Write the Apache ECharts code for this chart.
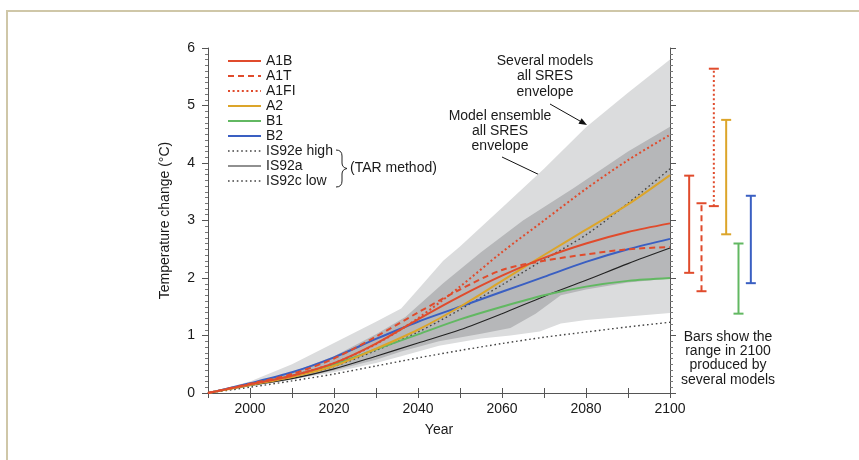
<!DOCTYPE html>
<html><head><meta charset="utf-8">
<script src="https://cdn.jsdelivr.net/npm/echarts@6/dist/echarts.min.js"></script>
<style>html,body{margin:0;padding:0;background:#fff}#c{width:859px;height:460px}</style>
</head><body><div id="c"></div>
<script>
// ---------- data ----------
const years = [1990,2000,2010,2020,2030,2040,2050,2060,2070,2080,2090,2100];
const A1B   = [0,0.15,0.30,0.52,0.86,1.28,1.68,2.04,2.35,2.60,2.80,2.95];
const A1T   = [0,0.16,0.33,0.60,0.98,1.40,1.80,2.14,2.30,2.41,2.50,2.54];
const A1FI  = [0,0.15,0.30,0.52,0.85,1.30,1.85,2.45,3.00,3.55,4.05,4.49];
const A2    = [0,0.14,0.28,0.47,0.77,1.10,1.50,1.95,2.40,2.84,3.28,3.79];
const B1    = [0,0.15,0.30,0.50,0.76,1.02,1.28,1.50,1.70,1.85,1.95,2.00];
const B2    = [0,0.17,0.36,0.62,0.94,1.24,1.50,1.76,2.02,2.28,2.50,2.68];
const IS92eHigh = [0,0.14,0.28,0.46,0.74,1.06,1.45,1.88,2.32,2.75,3.30,3.90];
const IS92a     = [0,0.13,0.25,0.42,0.64,0.87,1.10,1.38,1.68,1.96,2.25,2.52];
const IS92cLow  = [0,0.10,0.21,0.33,0.47,0.61,0.74,0.86,0.97,1.06,1.15,1.23];

const outerUpYears = [1990,2000,2010,2020,2030,2036,2040,2046,2050,2060,2070,2080,2090,2100];
const outerUp      = [0,0.20,0.50,0.87,1.24,1.47,1.80,2.30,2.55,3.22,3.90,4.62,5.22,5.80];
const outerLoYears = [1990,2000,2010,2020,2030,2036,2045,2055,2062,2069,2074,2080,2090,2100];
const outerLo      = [0,0.11,0.23,0.36,0.52,0.64,0.82,0.95,1.00,1.07,1.21,1.27,1.33,1.39];
const innerUpYears = [1990,2000,2010,2020,2030,2037,2046,2055,2065,2077,2090,2100];
const innerUp      = [0,0.17,0.36,0.64,1.02,1.32,1.91,2.45,3.00,3.56,4.20,4.63];
const innerLoYears = [1990,2000,2010,2020,2030,2036,2045,2055,2062,2068,2074,2080,2090,2100];
const innerLo      = [0,0.12,0.24,0.39,0.58,0.72,0.90,1.03,1.13,1.38,1.70,1.80,1.92,1.99];

const barNames = ['A1B','A1T','A1FI','A2','B1','B2'];
const barLow   = [2.09,1.77,3.25,2.76,1.38,1.91];
const barHigh  = [3.78,3.30,5.64,4.75,2.60,3.43];

const xLabels = [2000,2020,2040,2060,2080,2100];
const yLabels = [0,1,2,3,4,5,6];

// ---------- styles ----------
const RED='#e04b2c', GOLD='#dca52a', GREEN='#62b862', BLUE='#3a5fc2', DARK='#222222', DOT='#444444';
const FONT="'Liberation Sans', Arial, Helvetica, sans-serif";
const styles = {
  A1B:{color:RED,width:2,type:'solid'},
  A1T:{color:RED,width:2,type:[6,4]},
  A1FI:{color:RED,width:2,type:[2,2.6]},
  A2:{color:GOLD,width:2,type:'solid'},
  B1:{color:GREEN,width:2,type:'solid'},
  B2:{color:BLUE,width:2,type:'solid'},
  'IS92e high':{color:DOT,width:1.4,type:[1.6,2.8]},
  'IS92a':{color:DARK,width:1.1,type:'solid'},
  'IS92c low':{color:DOT,width:1.4,type:[1.6,2.8]}
};
const seriesData = {A1B,A1T,A1FI,A2,B1,B2,'IS92e high':IS92eHigh,'IS92a':IS92a,'IS92c low':IS92cLow};

function envelope(upY, up, loY, lo, color, z){
  return {type:'custom', xAxisIndex:0, yAxisIndex:0, silent:true, z:z,
    data:[[1990,0]],
    renderItem:(params, api)=>{
      const pts=[];
      upY.forEach((y,i)=>pts.push(api.coord([y, up[i]])));
      for(let i=loY.length-1;i>=0;i--) pts.push(api.coord([loY[i], lo[i]]));
      return {type:'polygon', shape:{points:pts}, style:{fill:color}};
    }};
}

const drawOrder = ['IS92c low','IS92a','IS92e high','B1','B2','A2','A1T','A1B','A1FI'];
const lineSeries = drawOrder.map(name=>({
  name, type:'line', xAxisIndex:0, yAxisIndex:0, symbol:'none', smooth:0.3,
  z:3, silent:true,
  lineStyle:{color:styles[name].color,width:styles[name].width,type:styles[name].type},
  data: years.map((y,i)=>[y, seriesData[name][i]])
}));

const barSeries = {
  type:'custom', xAxisIndex:2, yAxisIndex:2, silent:true, z:3,
  data: barNames.map((n,i)=>[i, barLow[i], barHigh[i]]),
  renderItem:(params, api)=>{
    const i = api.value(0);
    const lo = api.coord([i, api.value(1)]);
    const hi = api.coord([i, api.value(2)]);
    const st = styles[barNames[i]];
    const base = {stroke:st.color, lineWidth:2, lineDash: st.type==='solid'?null:st.type};
    const capSt = {stroke:st.color, lineWidth:2};
    const hw = 5;
    return {type:'group', children:[
      {type:'line', shape:{x1:lo[0],y1:lo[1],x2:hi[0],y2:hi[1]}, style:base},
      {type:'line', shape:{x1:lo[0]-hw,y1:lo[1],x2:lo[0]+hw,y2:lo[1]}, style:capSt},
      {type:'line', shape:{x1:hi[0]-hw,y1:hi[1],x2:hi[0]+hw,y2:hi[1]}, style:capSt}
    ]};
  }
};

// ---------- legend (graphic) ----------
const legendNames = ['A1B','A1T','A1FI','A2','B1','B2','IS92e high','IS92a','IS92c low'];
const graphics = [];
graphics.push({type:'rect', shape:{x:7,y:11,width:900,height:500}, style:{fill:null, stroke:'#cfc7a8', lineWidth:2}, silent:true});
legendNames.forEach((n,i)=>{
  const y = 61 + i*15;
  const st = styles[n];
  graphics.push({type:'line', shape:{x1:228,y1:y,x2:261,y2:y},
    style:{stroke:st.color, lineWidth:st.width, lineDash: st.type==='solid'?null:st.type}});
  graphics.push({type:'text', x:266, y:y, style:{text:n, font:'14px '+FONT, fill:'#1a1a1a', verticalAlign:'middle'}});
});
// brace
const braceSt = {fill:null, stroke:'#222', lineWidth:1};
graphics.push({type:'bezierCurve', shape:{x1:336,y1:150,cpx1:342,cpy1:150,x2:342,y2:156}, style:braceSt});
graphics.push({type:'line', shape:{x1:342,y1:156,x2:342,y2:163}, style:braceSt});
graphics.push({type:'bezierCurve', shape:{x1:342,y1:163,cpx1:342,cpy1:167.5,x2:347,y2:168.5}, style:braceSt});
graphics.push({type:'bezierCurve', shape:{x1:347,y1:168.5,cpx1:342,cpy1:169.5,x2:342,y2:174}, style:braceSt});
graphics.push({type:'line', shape:{x1:342,y1:174,x2:342,y2:181}, style:braceSt});
graphics.push({type:'bezierCurve', shape:{x1:342,y1:181,cpx1:342,cpy1:187,x2:336,y2:187}, style:braceSt});
graphics.push({type:'text', x:350, y:168, style:{text:'(TAR method)', font:'14px '+FONT, fill:'#1a1a1a', verticalAlign:'middle'}});

// annotations
graphics.push({type:'text', x:545, y:53, style:{text:'Several models\nall SRES\nenvelope', font:'14px '+FONT, fill:'#1a1a1a', align:'center', lineHeight:15.5}});
graphics.push({type:'text', x:500, y:109, style:{text:'Model ensemble\nall SRES\nenvelope', font:'14px '+FONT, fill:'#1a1a1a', align:'center', lineHeight:15}});
function arrow(x1,y1,x2,y2){
  const dx=x2-x1, dy=y2-y1, L=Math.hypot(dx,dy), ux=dx/L, uy=dy/L;
  const hl=8, hw=3.2;
  const bx=x2-ux*hl, by=y2-uy*hl;
  graphics.push({type:'line', shape:{x1:x1,y1:y1,x2:bx,y2:by}, style:{stroke:'#111', lineWidth:1}});
  graphics.push({type:'polygon', shape:{points:[[x2,y2],[bx-uy*hw,by+ux*hw],[bx+uy*hw,by-ux*hw]]}, style:{fill:'#111'}});
}
arrow(550,104,587,125);
arrow(502,157,567,188);
graphics.push({type:'text', x:728, y:330, style:{text:'Bars show the\nrange in 2100\nproduced by\nseveral models', font:'14px '+FONT, fill:'#1a1a1a', align:'center', lineHeight:14.2}});

const axisLineSt = {lineStyle:{color:'#555', width:1}};
const chart = echarts.init(document.getElementById('c'), null, {renderer:'canvas'});
chart.setOption({
  backgroundColor:'#ffffff',
  animation:false,
  textStyle:{fontFamily:FONT},
  grid:[
    {left:208, right:189, top:48, bottom:67},
    {left:683, width:74, top:48, bottom:67}
  ],
  xAxis:[
    {type:'value', gridIndex:0, position:'bottom', min:1990, max:2100, interval:10,
     axisLine:axisLineSt, axisTick:{show:true, length:5, lineStyle:{color:'#555'}},
     axisLabel:{fontSize:14, color:'#1a1a1a', margin:9, fontFamily:FONT,
       formatter:v=> xLabels.indexOf(v)>=0 ? String(v) : ''},
     splitLine:{show:false},
     name:'Year', nameLocation:'middle', nameGap:30,
     nameTextStyle:{fontSize:14, color:'#1a1a1a', fontFamily:FONT}},
    {type:'value', gridIndex:0, position:'top', min:1990, max:2100, interval:10,
     axisLine:axisLineSt, axisTick:{show:true, length:5, lineStyle:{color:'#555'}},
     axisLabel:{show:false}, splitLine:{show:false}},
    {type:'category', gridIndex:1, data:barNames, show:false}
  ],
  yAxis:[
    {type:'value', gridIndex:0, position:'left', min:0, max:6, interval:1,
     axisLine:{show:true, lineStyle:{color:'#555', width:1}},
     axisTick:{show:true, length:6, lineStyle:{color:'#555'}},
     minorTick:{show:true, splitNumber:10, length:3, lineStyle:{color:'#777'}},
     axisLabel:{fontSize:14, color:'#1a1a1a', margin:13, fontFamily:FONT,
       formatter:v=> yLabels.indexOf(v)>=0 ? String(v) : ''},
     splitLine:{show:false},
     name:'Temperature change (°C)', nameLocation:'middle', nameGap:36, nameRotate:90,
     nameTextStyle:{fontSize:14, color:'#1a1a1a', fontFamily:FONT}},
    {type:'value', gridIndex:0, position:'right', min:0, max:6, interval:1,
     axisLine:{show:true, lineStyle:{color:'#555', width:1}},
     axisTick:{show:true, length:6, lineStyle:{color:'#555'}},
     minorTick:{show:true, splitNumber:10, length:3, lineStyle:{color:'#777'}},
     axisLabel:{show:false}, splitLine:{show:false}},
    {type:'value', gridIndex:1, min:0, max:6, show:false}
  ],
  series:[
    envelope(outerUpYears, outerUp, outerLoYears, outerLo, '#dbdcdd', 1),
    envelope(innerUpYears, innerUp, innerLoYears, innerLo, '#b6b7b9', 2),
    ...lineSeries,
    barSeries
  ],
  graphic: graphics
});
</script>
</body></html>
